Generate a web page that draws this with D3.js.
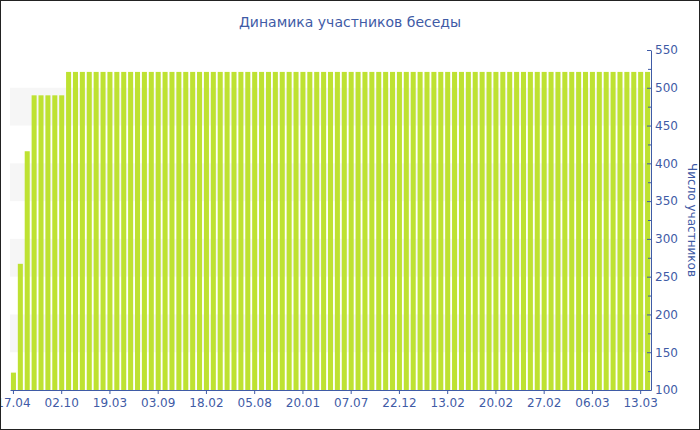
<!DOCTYPE html>
<meta charset="utf-8">
<style>
  body { margin: 0; background: #fff; }
  text { font-family: "DejaVu Sans", Verdana, sans-serif; }
</style>
<svg width="700" height="430"></svg>
<script src="https://d3js.org/d3.v7.min.js"></script>
<script>

// участники по дням (93 столбца)
var values = [
  123, 267, 416, 490, 490, 490, 490, 490,
  521, 521, 521, 521, 521, 521, 521, 521, 521, 521,
  521, 521, 521, 521, 521, 521, 521, 521, 521, 521,
  521, 521, 521, 521, 521, 521, 521, 521, 521, 521,
  521, 521, 521, 521, 521, 521, 521, 521, 521, 521,
  521, 521, 521, 521, 521, 521, 521, 521, 521, 521,
  521, 521, 521, 521, 521, 521, 521, 521, 521, 521,
  521, 521, 521, 521, 521, 521, 521, 521, 521, 521,
  521, 521, 521, 521, 521, 521, 521, 521, 521, 521,
  521, 521, 521, 521, 521
];

// подписи каждого 7-го столбца
var tickLabels = ["17.04", "02.10", "19.03", "03.09", "18.02", "05.08", "20.01",
                  "07.07", "22.12", "13.02", "20.02", "27.02", "06.03", "13.03"];
var tickEvery = 7;

var yTicks = [100, 150, 200, 250, 300, 350, 400, 450, 500, 550];

var svg = d3.select("svg"),
    width = +svg.attr("width"),
    height = +svg.attr("height");

var pLeft = 10, pRight = 651, pTop = 50, pBottom = 390;
var blue = "#3f5ba6";

var x = d3.scaleBand()
    .domain(d3.range(values.length))
    .range([pLeft, pRight])
    .paddingInner(0.27)
    .paddingOuter(0.135);

var y = d3.scaleLinear()
    .domain([100, 550])
    .range([pBottom, pTop]);

// светлые полосы фона
var bands = [];
for (var i = 1; i + 1 < yTicks.length; i += 2) bands.push([yTicks[i], yTicks[i + 1]]);
svg.append("g").selectAll("rect")
    .data(bands)
    .enter().append("rect")
    .attr("x", pLeft)
    .attr("width", pRight - pLeft)
    .attr("y", function(d) { return y(d[1]); })
    .attr("height", function(d) { return y(d[0]) - y(d[1]); })
    .attr("fill", "#f6f6f6");

svg.append("g").selectAll("rect")
    .data(values)
    .enter().append("rect")
    .attr("x", function(d, i) { return x(i); })
    .attr("width", x.bandwidth())
    .attr("y", function(d) { return y(d); })
    .attr("height", function(d) { return pBottom - y(d); })
    .attr("fill", "#bee232");

// нижняя ось
var xAxis = d3.axisBottom(x)
    .tickValues(d3.range(0, values.length, tickEvery))
    .tickFormat(function(i) { return tickLabels[i / tickEvery]; })
    .tickSizeInner(4)
    .tickSizeOuter(0);

var gx = svg.append("g")
    .attr("transform", "translate(0," + pBottom + ")")
    .call(xAxis);
gx.select(".domain").attr("stroke", blue);
gx.selectAll(".tick line").attr("stroke", blue);
gx.selectAll(".tick text")
    .attr("fill", blue)
    .attr("font-size", 12)
    .attr("font-family", "DejaVu Sans, Verdana, sans-serif")
    .attr("dy", "0.85em");

// правая ось
var minor = d3.range(125, 550, 50);
var gyMinor = svg.append("g")
    .attr("transform", "translate(" + pRight + ",0)")
    .call(d3.axisLeft(y).tickValues(minor).tickSize(3).tickFormat(""));
gyMinor.select(".domain").remove();
gyMinor.selectAll(".tick line").attr("stroke", blue);

var gy = svg.append("g")
    .attr("transform", "translate(" + pRight + ",0)")
    .call(d3.axisRight(y).tickValues(yTicks).tickSize(0).tickPadding(4));
gy.select(".domain").attr("stroke", blue);
gy.selectAll(".tick line").attr("stroke", blue);
gy.selectAll(".tick text")
    .attr("fill", blue)
    .attr("font-size", 12)
    .attr("font-family", "DejaVu Sans, Verdana, sans-serif");
gy.selectAll(".tick").append("line")
    .attr("x1", -4).attr("x2", 0)
    .attr("stroke", blue);

svg.append("text")
    .attr("transform", "translate(688," + (pTop + pBottom) / 2 + ") rotate(90)")
    .attr("text-anchor", "middle")
    .attr("font-size", 12)
    .attr("fill", blue)
    .text("Число участников");

svg.append("text")
    .attr("x", 350)
    .attr("y", 27)
    .attr("text-anchor", "middle")
    .attr("font-size", 14)
    .attr("fill", blue)
    .text("Динамика участников беседы");

// рамка
svg.append("rect")
    .attr("x", 0.5).attr("y", 0.5)
    .attr("width", width - 1).attr("height", height - 1)
    .attr("fill", "none")
    .attr("stroke", "#222");

</script>
